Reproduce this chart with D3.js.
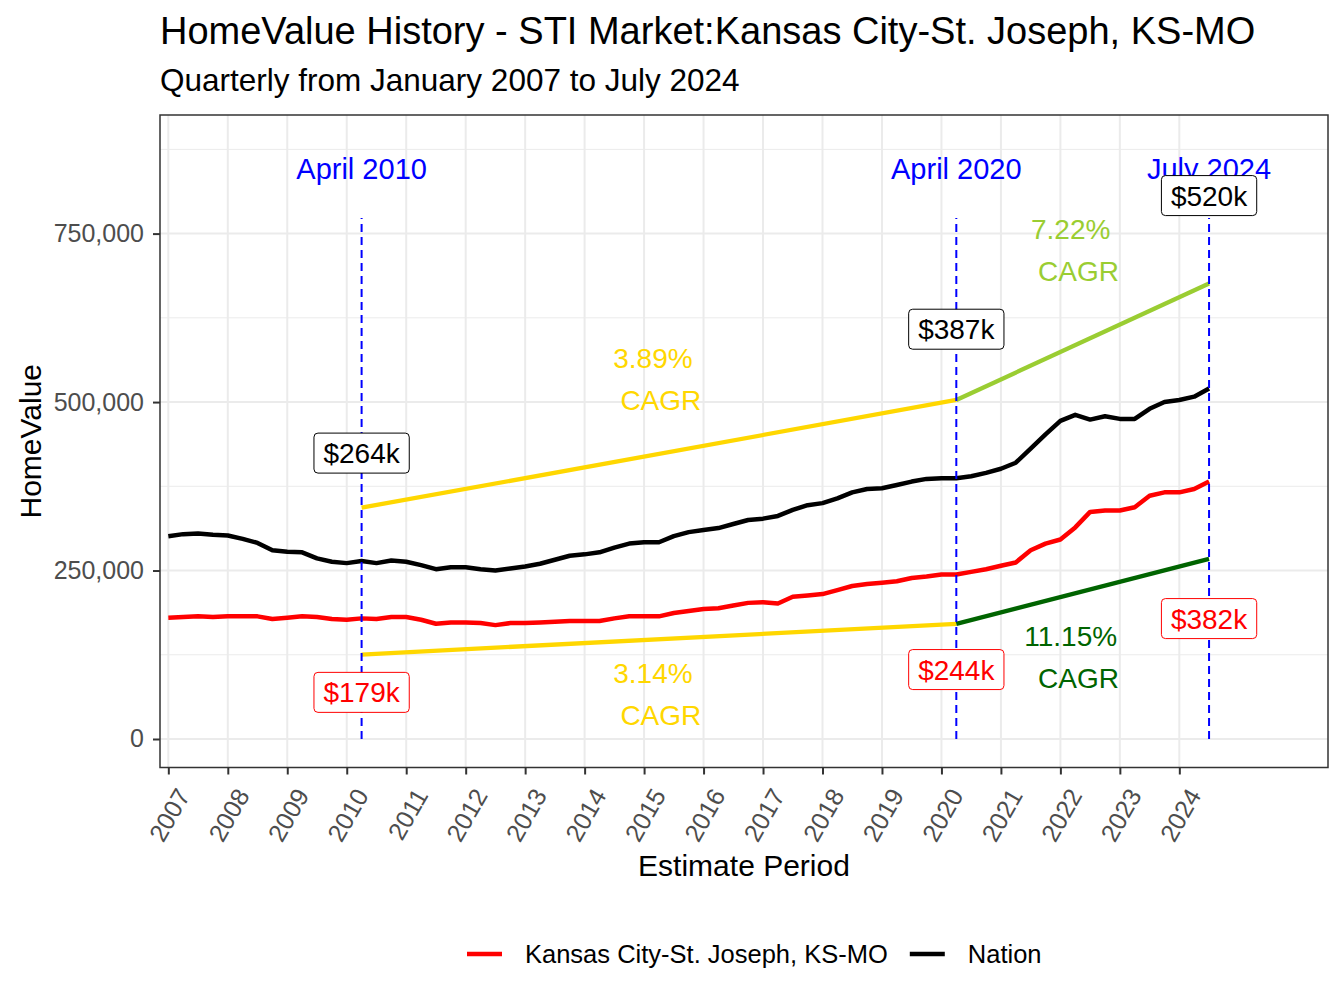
<!DOCTYPE html>
<html>
<head>
<meta charset="utf-8">
<script src="https://cdn.jsdelivr.net/npm/d3@7"></script>
<style>
  body { margin: 0; background: #fff; }
  text { font-family: "Liberation Sans", Arial, sans-serif; }
</style>
</head>
<body>
<svg id="chart"></svg>
<script>
// quarterly values, Jan 2007 .. Jul 2024
const firstYear = 2007;
const metroValues = [
  180000, 181000, 182000, 181000, 182000, 182000, 182000, 178000,
  180000, 182000, 181000, 178000, 177000, 179000, 178000, 181000,
  181000, 177000, 171000, 173000, 173000, 172000, 169000, 172000,
  172000, 173000, 174000, 175000, 175000, 175000, 179000, 182000,
  182000, 182000, 187000, 190000, 193000, 194000, 198000, 202000,
  203000, 201000, 211000, 213000, 215000, 221000, 227000, 230000,
  232000, 234000, 239000, 241000, 244000, 244000, 248000, 252000,
  257000, 262000, 280000, 290000, 296000, 314000, 337000, 339000,
  339000, 344000, 361000, 366000, 366000, 371000, 382000
];
const nationValues = [
  301000, 304000, 305000, 303000, 302000, 297000, 291000, 280000,
  278000, 277000, 268000, 263000, 261000, 264000, 261000, 265000,
  263000, 258000, 252000, 255000, 255000, 252000, 250000, 253000,
  256000, 260000, 266000, 272000, 274000, 277000, 284000, 290000,
  292000, 292000, 301000, 307000, 310000, 313000, 319000, 325000,
  327000, 331000, 340000, 347000, 350000, 357000, 366000, 371000,
  372000, 377000, 382000, 386000, 387000, 387000, 390000, 395000,
  401000, 410000, 431000, 452000, 472000, 481000, 474000, 479000,
  475000, 475000, 490000, 500000, 503000, 508000, 520000
];
const seriesNames = ['Kansas City-St. Joseph, KS-MO', 'Nation'];
const eventDates = [2010.25, 2020.25, 2024.5];
const eventLabels = ['April 2010', 'April 2020', 'July 2024'];
const cagrNation = ['3.89%', '7.22%'];
const cagrMetro = ['3.14%', '11.15%'];
const yearTicks = d3.range(2007, 2025);
const yTicks = [0, 250000, 500000, 750000];
const yMinor = [125000, 375000, 625000, 875000];

const W = 1344, H = 1008;
const panel = { left: 160, right: 1328, top: 115, bottom: 767.5 };

const dates = nationValues.map((_, i) => firstYear + i / 4);
const idx = eventDates.map(d => dates.indexOf(d));

const svg = d3.select('#chart').attr('width', W).attr('height', H);

const x = d3.scaleLinear().domain([2006.86, 2026.5]).range([panel.left, panel.right]);
const y = d3.scaleLinear().domain([-42300, 926000]).range([panel.bottom, panel.top]);

// titles
svg.append('text').attr('x', 160).attr('y', 44).attr('font-size', 38).attr('fill', '#000')
  .text('HomeValue History - STI Market:Kansas City-St. Joseph, KS-MO');
svg.append('text').attr('x', 160).attr('y', 91).attr('font-size', 31.5).attr('fill', '#000')
  .text('Quarterly from January 2007 to July 2024');

// grid
const grid = svg.append('g');
grid.selectAll('line.minor').data(yMinor).join('line')
  .attr('x1', panel.left).attr('x2', panel.right)
  .attr('y1', d => y(d)).attr('y2', d => y(d))
  .attr('stroke', '#EBEBEB').attr('stroke-width', 1);
grid.selectAll('line.majy').data(yTicks).join('line')
  .attr('x1', panel.left).attr('x2', panel.right)
  .attr('y1', d => y(d)).attr('y2', d => y(d))
  .attr('stroke', '#EBEBEB').attr('stroke-width', 2);
grid.selectAll('line.majx').data(yearTicks).join('line')
  .attr('x1', d => x(d)).attr('x2', d => x(d))
  .attr('y1', panel.top).attr('y2', panel.bottom)
  .attr('stroke', '#EBEBEB').attr('stroke-width', 2);

// CAGR trend segments
const cagrColors = ['#FFD700', '#9ACD32', '#FFD700', '#006400'];
const segs = [
  { a: 0, b: 1, f: 1.3, s: nationValues, c: cagrColors[0] },
  { a: 1, b: 2, f: 1.3, s: nationValues, c: cagrColors[1] },
  { a: 0, b: 1, f: 0.7, s: metroValues, c: cagrColors[2] },
  { a: 1, b: 2, f: 0.7, s: metroValues, c: cagrColors[3] }
];
svg.append('g').selectAll('line').data(segs).join('line')
  .attr('x1', d => x(eventDates[d.a])).attr('x2', d => x(eventDates[d.b]))
  .attr('y1', d => y(d.s[idx[d.a]] * d.f)).attr('y2', d => y(d.s[idx[d.b]] * d.f))
  .attr('stroke', d => d.c).attr('stroke-width', 4.3);

// series lines
const line = d3.line().x((d, i) => x(dates[i])).y(d => y(d));
const lines = svg.append('g').attr('fill', 'none').attr('stroke-width', 4.5)
  .attr('stroke-linejoin', 'round');
lines.append('path').attr('d', line(metroValues)).attr('stroke', '#FF0000');
lines.append('path').attr('d', line(nationValues)).attr('stroke', '#000000');

// event markers
svg.append('g').selectAll('line').data(eventDates).join('line')
  .attr('x1', d => x(d)).attr('x2', d => x(d))
  .attr('y1', y(0)).attr('y2', y(773000))
  .attr('stroke', '#0000FF').attr('stroke-width', 2).attr('stroke-dasharray', '8,5');
svg.append('g').selectAll('text').data(eventDates).join('text')
  .attr('x', d => x(d)).attr('y', y(846000)).attr('dy', '0.35em')
  .attr('text-anchor', 'middle').attr('font-size', 29).attr('fill', '#0000FF')
  .text((d, i) => eventLabels[i]);

// CAGR labels
function cagrText(cx, cy, pct, color) {
  const t = svg.append('text').attr('text-anchor', 'middle').attr('font-size', 28)
    .attr('fill', color).style('white-space', 'pre');
  t.append('tspan').attr('x', cx).attr('y', cy).attr('dy', '0.35em').text(pct);
  t.append('tspan').attr('x', cx + 4).attr('y', cy + 42).attr('dy', '0.35em').text(' CAGR');
}
const mid1 = (eventDates[0] + eventDates[1]) / 2;
const mid2 = (eventDates[1] + eventDates[2]) / 2;
cagrText(x(mid1) - 6, 358, cagrNation[0], cagrColors[0]);
cagrText(x(mid2) - 12, 229, cagrNation[1], cagrColors[1]);
cagrText(x(mid1) - 6, 673, cagrMetro[0], cagrColors[2]);
cagrText(x(mid2) - 12, 636, cagrMetro[1], cagrColors[3]);

// value labels
function valueLabel(cx, cy, v, color) {
  const g = svg.append('g');
  const t = g.append('text').attr('x', cx).attr('y', cy).attr('dy', '0.36em')
    .attr('text-anchor', 'middle').attr('font-size', 28).attr('fill', color)
    .text('$' + Math.round(v / 1000) + 'k');
  const w = t.node().getComputedTextLength();
  g.insert('rect', 'text')
    .attr('x', cx - w / 2 - 9.5).attr('y', cy - 20)
    .attr('width', w + 19).attr('height', 40).attr('rx', 4)
    .attr('fill', '#fff').attr('stroke', color).attr('stroke-width', 1);
}
const nationOffsets = [-108, -149, -193];
const metroOffsets = [74, 95, 137];
eventDates.forEach((d, k) => {
  const nv = nationValues[idx[k]], mv = metroValues[idx[k]];
  valueLabel(x(d), y(nv) + nationOffsets[k], nv, '#000000');
  valueLabel(x(d), y(mv) + metroOffsets[k], mv, '#FF0000');
});

// panel border
svg.append('rect').attr('x', panel.left).attr('y', panel.top)
  .attr('width', panel.right - panel.left).attr('height', panel.bottom - panel.top)
  .attr('fill', 'none').attr('stroke', '#333333').attr('stroke-width', 1.5);

// axes
const yAxis = svg.append('g').attr('transform', `translate(${panel.left},0)`)
  .call(d3.axisLeft(y).tickValues(yTicks).tickSize(7).tickPadding(9)
    .tickFormat(d3.format(',')));
yAxis.select('.domain').remove();
yAxis.selectAll('line').attr('stroke', '#333333').attr('stroke-width', 2);
yAxis.selectAll('text').attr('font-size', 25).attr('fill', '#4D4D4D')
  .attr('font-family', '"Liberation Sans", Arial, sans-serif');

const xAxis = svg.append('g').attr('transform', `translate(0,${panel.bottom})`)
  .call(d3.axisBottom(x).tickValues(yearTicks).tickSize(7).tickFormat(d3.format('d')));
xAxis.select('.domain').remove();
xAxis.selectAll('line').attr('stroke', '#333333').attr('stroke-width', 2);
xAxis.selectAll('text')
  .attr('font-size', 25).attr('fill', '#4D4D4D')
  .attr('font-family', '"Liberation Sans", Arial, sans-serif')
  .attr('text-anchor', 'end')
  .attr('transform', 'translate(7,19) rotate(-60)')
  .attr('x', 0).attr('y', 0).attr('dy', '0.7em');

svg.append('text').attr('x', (panel.left + panel.right) / 2).attr('y', 876)
  .attr('text-anchor', 'middle').attr('font-size', 30).text('Estimate Period');
svg.append('text').attr('transform', `translate(41,${(panel.top + panel.bottom) / 2}) rotate(-90)`)
  .attr('text-anchor', 'middle').attr('font-size', 30).text('HomeValue');

// legend
const legendColors = ['#FF0000', '#000000'];
const legend = svg.append('g').attr('transform', 'translate(0,954)');
let lx = 467;
seriesNames.forEach((name, i) => {
  legend.append('line').attr('x1', lx).attr('x2', lx + 35).attr('y1', 0).attr('y2', 0)
    .attr('stroke', legendColors[i]).attr('stroke-width', 4.5);
  const t = legend.append('text').attr('x', lx + 58).attr('y', 0).attr('dy', '0.35em')
    .attr('font-size', 25.5).text(name);
  lx += 58 + t.node().getComputedTextLength() + 22;
});
</script>
</body>
</html>
